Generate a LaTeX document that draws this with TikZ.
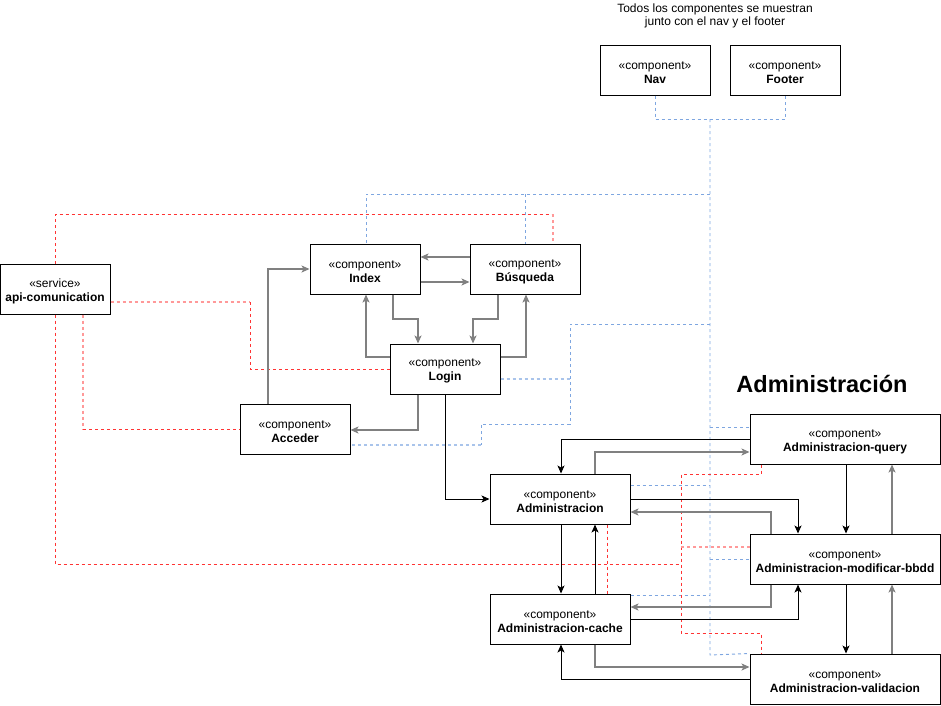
\documentclass[tikz,border=0pt]{standalone}
\usepackage{fontspec}
\setmainfont{Liberation Sans}
\usetikzlibrary{arrows.meta}
\definecolor{bl}{HTML}{7EA6E0}
\definecolor{bll}{HTML}{A9C4EB}
\definecolor{rd}{HTML}{FF3333}
\definecolor{rdl}{HTML}{FF9999}
\definecolor{gr}{HTML}{808080}
\newcommand{\topstrut}{\rule{0pt}{12.5pt}}
\begin{document}
\begin{tikzpicture}[x=1pt,y=-1pt,
  comp/.style={draw=black,line width=1pt,fill=white,minimum width=110pt,minimum height=50pt,
    align=center,inner sep=0pt,font=\fontsize{12}{14}\selectfont},
  wide/.style={minimum width=140pt},
  wider/.style={minimum width=190pt},
  tip/.style={-{Stealth[length=8pt,width=7pt,inset=2pt]}},
  garr/.style={tip,draw=gr,line width=1.6pt},
  barr/.style={tip,draw=black,line width=1pt},
  bdash/.style={draw=bl,line width=0.9pt,dash pattern=on 3pt off 3pt},
  bdashl/.style={draw=bll,line width=1.4pt,dash pattern=on 3pt off 3pt},
  rdash/.style={draw=rd,line width=0.9pt,dash pattern=on 3pt off 3pt},
  rdashl/.style={draw=rdl,line width=1.4pt,dash pattern=on 3pt off 3pt}]
\useasboundingbox (0,0) rectangle (941,705);

% title texts
\node[font=\fontsize{12}{13}\selectfont,align=center] (note) at (715,16) {Todos los componentes se muestran\\junto con el nav y el footer};
\node[font=\fontsize{23.5}{25}\bfseries\selectfont] (title) at (822,384) {Administración};

% nodes
\node[comp] (nav) at (655,70) {\topstrut«component»\\\textbf{Nav}};
\node[comp] (footer) at (785,70) {\topstrut«component»\\\textbf{Footer}};
\node[comp] (api) at (55,289) {\topstrut«service»\\\textbf{api-comunication}};
\node[comp] (idx) at (365,269) {\topstrut«component»\\\textbf{Index}};
\node[comp] (bus) at (525,269) {\topstrut«component»\\\textbf{Búsqueda}};
\node[comp] (login) at (445,369) {\topstrut«component»\\\textbf{Login}};
\node[comp] (acc) at (295,429) {\topstrut«component»\\\textbf{Acceder}};
\node[comp,wide] (adm) at (560,499) {\topstrut«component»\\\textbf{Administracion}};
\node[comp,wide] (cache) at (560,619) {\topstrut«component»\\\textbf{Administracion-cache}};
\node[comp,wider] (query) at (845,439) {\topstrut«component»\\\textbf{Administracion-query}};
\node[comp,wider] (modif) at (845,559) {\topstrut«component»\\\textbf{Administracion-modificar-bbdd}};
\node[comp,wider] (valid) at (845,679) {\topstrut«component»\\\textbf{Administracion-validacion}};

% junction coordinates
\coordinate (bj) at (710,119);
\coordinate (bt) at (710,194);
\coordinate (bm) at (710,324);
\coordinate (bl1) at (570,379);
\coordinate (rv) at (681,564);

% blue dashed network
\draw[bdash] (nav.south) -- (655,119) -| (footer.south);
\draw[bdash] (bj) -- (710,655) -- (valid.north west);
\draw[bdash] (bt) -- (366,194) -- (idx.north -| 366,0);
\draw[bdash] (525,194) -- (bus.north -| 525,0);
\draw[bdash] (bm) -- (570,324) -- (570,424) -- (481,424) -- (481,445);
\draw[bdashl] (481,445) -- (acc.east |- 0,445);
\draw[bdashl] (login.east |- 0,379) -- (bl1);
\draw[bdash] (710,427) -- (query.west |- 0,427);
\draw[bdash] (adm.east |- 0,485) -- (710,485);
\draw[bdash] (710,559) -- (modif.west |- 0,559);
\draw[bdash] (cache.east |- 0,595) -- (710,595);

% red dashed network
\draw[rdash] (api.north) -- (55,214) -- (553,214);
\draw[rdashl] (553,214) -- (bus.north -| 553,0);
\draw[rdash] (api.south) -- (55,564) -- (rv);
\draw[rdashl] (api.east |- 0,302) -- (250,302);
\draw[rdash] (250,302) -- (250,369) -- (login.west |- 0,369);
\draw[rdashl] (api.south -| 83,0) -- (83,429);
\draw[rdash] (83,429) -- (acc.west |- 0,429);
\draw[rdash] (query.south -| 761,0) |- (681,474) -- (681,633) -| (valid.north -| 761,0);
\draw[rdashl] (681,547) -- (modif.west |- 0,547);
\draw[rdash] (adm.south -| 607,0) -- (cache.north -| 607,0);

% solid arrows, upper part
\draw[garr] (acc.north -| 268,0) |- (idx.west);
\draw[garr] (bus.west |- 0,257) -- (idx.east |- 0,257);
\draw[garr] (idx.east |- 0,282) -- (bus.west |- 0,282);
\draw[garr] (idx.south -| 393,0) -- (393,319) -| (login.north -| 418,0);
\draw[garr] (bus.south -| 498,0) -- (498,319) -| (login.north -| 473,0);
\draw[garr] (login.west |- 0,357) -| (idx.south -| 366,0);
\draw[garr] (login.east |- 0,357) -| (bus.south -| 526,0);
\draw[garr] (login.south -| 418,0) |- (acc.east |- 0,430);
\draw[barr] (login.south -| 445,0) |- (adm.west);

% administration cluster
\draw[barr] (query.west |- 0,439) -| (adm.north -| 561,0);
\draw[garr] (adm.north -| 595,0) |- (query.west |- 0,452);
\draw[barr] (adm.east |- 0,499) -| (modif.north -| 798,0);
\draw[garr] (modif.north -| 771,0) |- (adm.east |- 0,512);
\draw[barr] (query.south -| 846,0) -- (modif.north -| 846,0);
\draw[garr] (modif.north -| 892,0) -- (query.south -| 892,0);
\draw[barr] (modif.south -| 846,0) -- (valid.north -| 846,0);
\draw[garr] (valid.north -| 892,0) -- (modif.south -| 892,0);
\draw[garr] (modif.south -| 771,0) |- (cache.east |- 0,607);
\draw[barr] (cache.east |- 0,619) -| (modif.south -| 798,0);
\draw[garr] (cache.south -| 595,0) |- (valid.west |- 0,667);
\draw[barr] (valid.west |- 0,679) -| (cache.south -| 561,0);
\draw[barr] (adm.south -| 561,0) -- (cache.north -| 561,0);
\draw[barr] (cache.north -| 595,0) -- (adm.south -| 595,0);
\end{tikzpicture}
\end{document}
